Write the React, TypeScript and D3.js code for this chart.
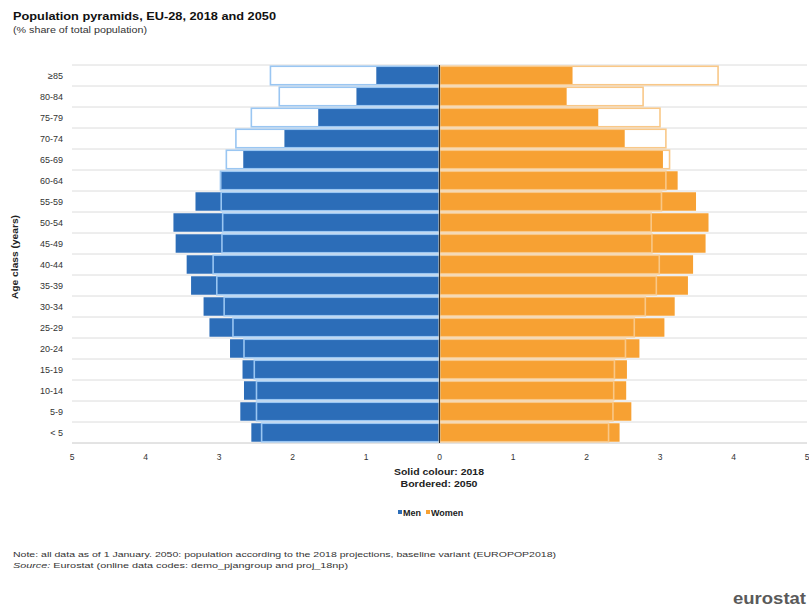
import React from "react";
import * as d3 from "d3";

const ageClasses = ["≥85", "80-84", "75-79", "70-74", "65-69", "60-64", "55-59", "50-54", "45-49", "40-44", "35-39", "30-34", "25-29", "20-24", "15-19", "10-14", "5-9", "< 5"];
const men2018 = [0.86, 1.13, 1.65, 2.11, 2.67, 2.97, 3.32, 3.62, 3.59, 3.44, 3.38, 3.21, 3.13, 2.85, 2.68, 2.66, 2.71, 2.56];
const men2050 = [2.3, 2.18, 2.56, 2.77, 2.9, 2.98, 2.97, 2.95, 2.96, 3.08, 3.03, 2.93, 2.81, 2.66, 2.52, 2.49, 2.49, 2.42];
const women2018 = [1.81, 1.73, 2.16, 2.52, 3.04, 3.24, 3.49, 3.66, 3.62, 3.45, 3.38, 3.2, 3.06, 2.72, 2.55, 2.54, 2.61, 2.45];
const women2050 = [3.79, 2.77, 3.0, 3.08, 3.13, 3.08, 3.02, 2.88, 2.89, 2.99, 2.95, 2.8, 2.65, 2.53, 2.38, 2.37, 2.36, 2.3];
const xTicks = [-5, -4, -3, -2, -1, 0, 1, 2, 3, 4, 5];
const seriesNames = ["Men", "Women"];

const MEN = "#2c6db8";
const WOMEN = "#f7a133";
const MEN_B = "#9ac6f2";
const WOMEN_B = "#f9c888";
const FONT = "Liberation Sans, Arial, sans-serif";

export default function App() {
  const W = 809, H = 607;
  const x = d3.scaleLinear().domain([-5, 5]).range([72, 807]);
  const y = d3.scaleBand<string>().domain(ageClasses).range([65, 443]).paddingInner(0.12).paddingOuter(0.06);
  const top = 65, bottom = 443;
  const gridYs = d3.range(ageClasses.length + 1).map((i) => top + i * ((bottom - top) / ageClasses.length));

  return (
    <svg width={W} height={H} style={{ position: "absolute", left: 0, top: 0, background: "#fff" }} fontFamily={FONT}>
      <rect width={W} height={H} fill="#fff" />
      <text x={13} y={20} fontSize={11.5} fontWeight="bold" fill="#111" textLength={263} lengthAdjust="spacingAndGlyphs">Population pyramids, EU-28, 2018 and 2050</text>
      <text x={13} y={33} fontSize={9} fill="#333" textLength={134} lengthAdjust="spacingAndGlyphs">(% share of total population)</text>

      {gridYs.map((gy, i) => (
        <line key={i} x1={72} x2={807} y1={gy} y2={gy} stroke={i === gridYs.length - 1 ? "#c8c8c8" : "#dcdcdc"} strokeWidth={1} />
      ))}

      {ageClasses.map((a, i) => (
        <g key={a}>
          <rect x={x(-men2018[i])} y={y(a)} width={x(0) - x(-men2018[i])} height={y.bandwidth()} fill={MEN} />
          <rect x={x(0)} y={y(a)} width={x(women2018[i]) - x(0)} height={y.bandwidth()} fill={WOMEN} />
        </g>
      ))}
      {ageClasses.map((a, i) => (
        <g key={a + "b"}>
          <rect x={x(-men2050[i])} y={y(a)} width={x(0) - x(-men2050[i])} height={y.bandwidth()} fill="none" stroke={MEN_B} strokeWidth={1.6} />
          <rect x={x(0)} y={y(a)} width={x(women2050[i]) - x(0)} height={y.bandwidth()} fill="none" stroke={WOMEN_B} strokeWidth={1.6} />
        </g>
      ))}
      <line x1={x(0)} x2={x(0)} y1={top} y2={bottom} stroke="#333" strokeWidth={1} />

      {ageClasses.map((a) => (
        <text key={a + "l"} x={63} y={(y(a) as number) + y.bandwidth() / 2 + 3} fontSize={9} textAnchor="end" fill="#333">{a}</text>
      ))}
      <text transform={`translate(18,257) rotate(-90)`} fontSize={9} fontWeight="bold" textAnchor="middle" fill="#222" textLength={84} lengthAdjust="spacingAndGlyphs">Age class (years)</text>

      {xTicks.map((t) => (
        <text key={t} x={x(t)} y={460} fontSize={8.5} textAnchor="middle" fill="#333">{Math.abs(t)}</text>
      ))}

      <text x={439} y={475} fontSize={9} fontWeight="bold" textAnchor="middle" fill="#222" textLength={90} lengthAdjust="spacingAndGlyphs">Solid colour: 2018</text>
      <text x={439} y={487} fontSize={9} fontWeight="bold" textAnchor="middle" fill="#222" textLength={77} lengthAdjust="spacingAndGlyphs">Bordered: 2050</text>

      {seriesNames.map((s, i) => {
        const lx = i === 0 ? 398 : 426;
        return (
          <g key={s}>
            <rect x={lx} y={510} width={4} height={4} fill={i === 0 ? MEN : WOMEN} />
            <text x={lx + 5} y={515.5} fontSize={9} fontWeight="bold" fill="#222">{s}</text>
          </g>
        );
      })}

      <text x={13} y={557} fontSize={8} fill="#333" textLength={543} lengthAdjust="spacingAndGlyphs">Note: all data as of 1 January. 2050: population according to the 2018 projections, baseline variant (EUROPOP2018)</text>
      <text x={13} y={568} fontSize={8} fill="#333" textLength={335} lengthAdjust="spacingAndGlyphs"><tspan fontStyle="italic">Source:</tspan> Eurostat (online data codes: demo_pjangroup and proj_18np)</text>

      <text x={733} y={604} fontSize={16.5} fill="#5a5a5a" fontWeight="bold" textLength={73} lengthAdjust="spacingAndGlyphs">eurostat</text>
    </svg>
  );
}
